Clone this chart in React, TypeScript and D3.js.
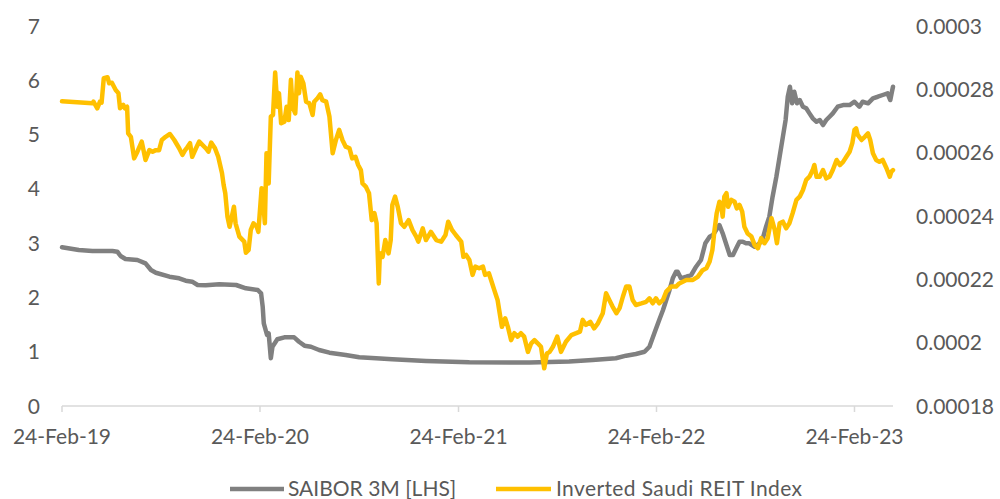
import React from "react";
import * as d3 from "d3";

// SAIBOR 3M (left axis, %)
const saibor: [string, number][] = [
  ["2019-02-24", 2.923], ["2019-03-27", 2.873], ["2019-04-21", 2.855], ["2019-05-28", 2.855],
  ["2019-06-06", 2.842], ["2019-06-12", 2.763], ["2019-06-21", 2.708], ["2019-07-13", 2.689],
  ["2019-07-28", 2.628], ["2019-08-07", 2.505], ["2019-08-16", 2.455], ["2019-09-10", 2.382],
  ["2019-09-28", 2.352], ["2019-10-10", 2.308], ["2019-10-22", 2.29], ["2019-11-01", 2.229],
  ["2019-11-16", 2.223], ["2019-12-11", 2.242], ["2020-01-11", 2.229], ["2020-01-29", 2.168],
  ["2020-02-20", 2.137], ["2020-02-26", 2.076], ["2020-02-29", 1.829], ["2020-03-02", 1.523],
  ["2020-03-08", 1.308], ["2020-03-11", 1.339], ["2020-03-15", 0.879], ["2020-03-18", 1.092],
  ["2020-03-27", 1.229], ["2020-04-09", 1.265], ["2020-04-27", 1.265], ["2020-05-06", 1.184],
  ["2020-05-16", 1.111], ["2020-05-28", 1.092], ["2020-06-12", 1.031], ["2020-07-01", 0.982],
  ["2020-07-31", 0.94], ["2020-08-25", 0.897], ["2020-09-25", 0.879], ["2020-10-25", 0.86],
  ["2020-12-26", 0.829], ["2021-03-16", 0.805], ["2021-07-05", 0.801], ["2021-09-16", 0.82],
  ["2021-10-29", 0.847], ["2021-12-11", 0.879], ["2021-12-30", 0.927], ["2022-01-17", 0.958],
  ["2022-02-02", 1.0], ["2022-02-11", 1.092], ["2022-02-20", 1.339], ["2022-03-01", 1.584],
  ["2022-03-08", 1.768], ["2022-03-14", 1.952], ["2022-03-20", 2.137], ["2022-03-26", 2.352],
  ["2022-04-01", 2.474], ["2022-04-04", 2.474], ["2022-04-10", 2.352], ["2022-04-20", 2.382],
  ["2022-04-29", 2.413], ["2022-05-08", 2.566], ["2022-05-17", 2.689], ["2022-05-25", 2.997],
  ["2022-06-02", 3.118], ["2022-06-08", 3.15], ["2022-06-14", 3.242], ["2022-06-20", 3.334],
  ["2022-06-26", 3.181], ["2022-07-03", 2.966], ["2022-07-09", 2.781], ["2022-07-15", 2.781],
  ["2022-07-21", 2.905], ["2022-07-27", 3.026], ["2022-08-02", 3.026], ["2022-08-08", 2.997],
  ["2022-08-14", 2.997], ["2022-08-24", 2.934], ["2022-09-02", 2.997], ["2022-09-08", 3.089],
  ["2022-09-14", 3.303], ["2022-09-20", 3.487], ["2022-09-26", 3.855], ["2022-10-03", 4.224],
  ["2022-10-09", 4.592], ["2022-10-15", 4.96], ["2022-10-20", 5.268], ["2022-10-24", 5.697],
  ["2022-10-28", 5.881], ["2022-11-01", 5.576], ["2022-11-05", 5.789], ["2022-11-10", 5.576],
  ["2022-11-15", 5.636], ["2022-11-21", 5.513], ["2022-11-27", 5.484], ["2022-12-03", 5.391],
  ["2022-12-09", 5.299], ["2022-12-16", 5.237], ["2022-12-22", 5.268], ["2022-12-28", 5.176],
  ["2023-01-03", 5.268], ["2023-01-09", 5.329], ["2023-01-15", 5.391], ["2023-01-24", 5.513],
  ["2023-02-03", 5.544], ["2023-02-15", 5.544], ["2023-02-24", 5.605], ["2023-03-05", 5.513],
  ["2023-03-11", 5.605], ["2023-03-21", 5.576], ["2023-03-30", 5.668], ["2023-04-08", 5.697],
  ["2023-04-17", 5.729], ["2023-04-26", 5.76], ["2023-05-01", 5.636], ["2023-05-04", 5.789],
  ["2023-05-06", 5.881],
];

// Inverted Saudi REIT Index (right axis)
const invertedReit: [string, number][] = [
  ["2019-02-24", 0.0002762], ["2019-04-21", 0.0002756], ["2019-04-23", 0.0002761], ["2019-04-30", 0.000274],
  ["2019-05-05", 0.0002761], ["2019-05-08", 0.0002758], ["2019-05-12", 0.0002835], ["2019-05-19", 0.0002838],
  ["2019-05-22", 0.0002819], ["2019-05-27", 0.0002821], ["2019-06-03", 0.0002798], ["2019-06-08", 0.0002788],
  ["2019-06-11", 0.000274], ["2019-06-17", 0.0002751], ["2019-06-20", 0.000274], ["2019-06-24", 0.0002745],
  ["2019-06-26", 0.0002661], ["2019-07-01", 0.000265], ["2019-07-07", 0.0002582], ["2019-07-13", 0.0002603],
  ["2019-07-21", 0.0002635], ["2019-07-28", 0.0002577], ["2019-08-04", 0.0002608], ["2019-08-10", 0.0002603],
  ["2019-08-16", 0.0002608], ["2019-08-22", 0.0002608], ["2019-08-27", 0.000264], ["2019-09-03", 0.000265],
  ["2019-09-11", 0.0002659], ["2019-09-19", 0.000264], ["2019-09-28", 0.0002614], ["2019-10-04", 0.0002593],
  ["2019-10-09", 0.0002608], ["2019-10-13", 0.0002617], ["2019-10-18", 0.000263], ["2019-10-22", 0.0002587],
  ["2019-10-29", 0.0002614], ["2019-11-04", 0.0002635], ["2019-11-16", 0.0002614], ["2019-11-21", 0.0002603],
  ["2019-11-26", 0.0002632], ["2019-12-03", 0.0002614], ["2019-12-09", 0.0002587], ["2019-12-16", 0.0002535],
  ["2019-12-19", 0.0002498], ["2019-12-22", 0.0002472], ["2019-12-26", 0.0002398], ["2019-12-30", 0.0002366],
  ["2020-01-03", 0.0002398], ["2020-01-07", 0.0002429], ["2020-01-10", 0.0002377], ["2020-01-17", 0.0002335],
  ["2020-01-26", 0.0002319], ["2020-01-29", 0.0002284], ["2020-02-03", 0.0002293], ["2020-02-07", 0.0002356],
  ["2020-02-12", 0.0002377], ["2020-02-18", 0.0002366], ["2020-02-21", 0.000235], ["2020-02-24", 0.0002419],
  ["2020-02-27", 0.0002488], ["2020-03-01", 0.000244], ["2020-03-04", 0.0002377], ["2020-03-07", 0.0002598],
  ["2020-03-11", 0.0002503], ["2020-03-15", 0.0002714], ["2020-03-19", 0.0002719], ["2020-03-23", 0.0002853],
  ["2020-03-27", 0.0002745], ["2020-03-30", 0.0002788], ["2020-04-03", 0.0002693], ["2020-04-09", 0.0002698],
  ["2020-04-13", 0.0002745], ["2020-04-17", 0.0002703], ["2020-04-21", 0.000283], ["2020-04-24", 0.0002745],
  ["2020-04-29", 0.0002724], ["2020-05-03", 0.0002853], ["2020-05-06", 0.0002788], ["2020-05-09", 0.000284],
  ["2020-05-14", 0.0002819], ["2020-05-19", 0.0002761], ["2020-05-25", 0.0002756], ["2020-05-31", 0.0002719],
  ["2020-06-03", 0.0002761], ["2020-06-09", 0.0002772], ["2020-06-14", 0.0002784], ["2020-06-18", 0.0002766],
  ["2020-06-25", 0.0002761], ["2020-07-01", 0.0002714], ["2020-07-07", 0.0002598], ["2020-07-13", 0.000264],
  ["2020-07-19", 0.0002672], ["2020-07-25", 0.000264], ["2020-07-31", 0.0002619], ["2020-08-07", 0.0002614],
  ["2020-08-12", 0.0002582], ["2020-08-18", 0.0002587], ["2020-08-23", 0.0002561], ["2020-08-28", 0.0002545],
  ["2020-08-31", 0.0002503], ["2020-09-06", 0.0002493], ["2020-09-12", 0.0002472], ["2020-09-17", 0.0002387],
  ["2020-09-22", 0.0002409], ["2020-09-26", 0.0002377], ["2020-09-30", 0.0002187], ["2020-10-02", 0.0002282],
  ["2020-10-07", 0.0002271], ["2020-10-12", 0.0002324], ["2020-10-18", 0.0002282], ["2020-10-22", 0.0002324],
  ["2020-10-25", 0.0002435], ["2020-10-30", 0.0002461], ["2020-11-04", 0.0002429], ["2020-11-10", 0.0002377],
  ["2020-11-16", 0.0002366], ["2020-11-24", 0.0002387], ["2020-12-01", 0.0002356], ["2020-12-08", 0.0002335],
  ["2020-12-12", 0.0002319], ["2020-12-20", 0.0002361], ["2020-12-26", 0.0002324], ["2021-01-04", 0.000235],
  ["2021-01-14", 0.0002324], ["2021-01-23", 0.0002319], ["2021-01-31", 0.000234], ["2021-02-05", 0.0002382],
  ["2021-02-12", 0.0002356], ["2021-02-19", 0.000234], ["2021-03-01", 0.0002319], ["2021-03-05", 0.0002271],
  ["2021-03-10", 0.0002277], ["2021-03-16", 0.0002261], ["2021-03-22", 0.0002214], ["2021-03-27", 0.000224],
  ["2021-04-03", 0.0002235], ["2021-04-10", 0.000224], ["2021-04-14", 0.0002214], ["2021-04-21", 0.0002219],
  ["2021-04-25", 0.0002198], ["2021-05-01", 0.0002166], ["2021-05-07", 0.0002135], ["2021-05-10", 0.0002103],
  ["2021-05-15", 0.000205], ["2021-05-21", 0.0002077], ["2021-05-26", 0.000205], ["2021-06-01", 0.0002008],
  ["2021-06-07", 0.000203], ["2021-06-13", 0.0002019], ["2021-06-19", 0.000203], ["2021-06-25", 0.0002019],
  ["2021-07-02", 0.0001971], ["2021-07-08", 0.0001998], ["2021-07-14", 0.0002008], ["2021-07-20", 0.0001998],
  ["2021-07-26", 0.0001987], ["2021-08-01", 0.0001919], ["2021-08-06", 0.0001966], ["2021-08-11", 0.0001971],
  ["2021-08-17", 0.0001987], ["2021-08-25", 0.0002019], ["2021-09-01", 0.0001971], ["2021-09-10", 0.0002003],
  ["2021-09-20", 0.0002024], ["2021-09-29", 0.000203], ["2021-10-06", 0.0002035], ["2021-10-11", 0.0002072],
  ["2021-10-17", 0.0002056], ["2021-10-25", 0.0002066], ["2021-11-01", 0.0002045], ["2021-11-08", 0.0002061],
  ["2021-11-17", 0.0002093], ["2021-11-23", 0.0002156], ["2021-11-29", 0.0002135], ["2021-12-05", 0.0002114],
  ["2021-12-12", 0.0002093], ["2021-12-18", 0.0002109], ["2021-12-24", 0.0002145], ["2021-12-30", 0.0002177],
  ["2022-01-05", 0.0002177], ["2022-01-11", 0.0002135], ["2022-01-17", 0.0002119], ["2022-01-27", 0.0002124],
  ["2022-02-05", 0.0002129], ["2022-02-11", 0.000214], ["2022-02-17", 0.0002124], ["2022-02-23", 0.000214],
  ["2022-03-01", 0.0002124], ["2022-03-08", 0.0002135], ["2022-03-14", 0.0002161], ["2022-03-23", 0.0002177],
  ["2022-04-01", 0.0002177], ["2022-04-07", 0.0002187], ["2022-04-20", 0.0002198], ["2022-05-02", 0.0002198],
  ["2022-05-11", 0.0002208], ["2022-05-20", 0.0002229], ["2022-05-27", 0.0002235], ["2022-06-02", 0.0002256],
  ["2022-06-07", 0.0002293], ["2022-06-11", 0.0002356], ["2022-06-15", 0.0002409], ["2022-06-20", 0.0002445],
  ["2022-06-23", 0.000244], ["2022-06-26", 0.0002398], ["2022-06-29", 0.0002461], ["2022-07-03", 0.0002472],
  ["2022-07-06", 0.0002429], ["2022-07-12", 0.0002451], ["2022-07-18", 0.0002445], ["2022-07-22", 0.0002424],
  ["2022-07-27", 0.0002435], ["2022-08-01", 0.0002414], ["2022-08-05", 0.0002366], ["2022-08-11", 0.0002345],
  ["2022-08-18", 0.0002335], ["2022-08-24", 0.0002308], ["2022-08-30", 0.0002298], ["2022-09-05", 0.000233],
  ["2022-09-11", 0.0002314], ["2022-09-17", 0.000233], ["2022-09-24", 0.0002393], ["2022-09-30", 0.0002356],
  ["2022-10-04", 0.0002314], ["2022-10-09", 0.0002377], ["2022-10-15", 0.0002382], ["2022-10-21", 0.0002361],
  ["2022-10-27", 0.0002377], ["2022-11-02", 0.0002409], ["2022-11-09", 0.0002451], ["2022-11-15", 0.0002461],
  ["2022-11-21", 0.0002482], ["2022-11-27", 0.0002514], ["2022-12-03", 0.0002524], ["2022-12-09", 0.0002545],
  ["2022-12-12", 0.0002561], ["2022-12-16", 0.0002524], ["2022-12-22", 0.0002524], ["2022-12-28", 0.0002545],
  ["2023-01-03", 0.0002519], ["2023-01-09", 0.0002524], ["2023-01-15", 0.0002545], ["2023-01-22", 0.0002577],
  ["2023-01-28", 0.0002561], ["2023-02-03", 0.0002571], ["2023-02-09", 0.0002587], ["2023-02-15", 0.0002603],
  ["2023-02-20", 0.000263], ["2023-02-24", 0.0002672], ["2023-02-27", 0.0002677], ["2023-03-02", 0.0002656],
  ["2023-03-09", 0.000264], ["2023-03-15", 0.000265], ["2023-03-21", 0.0002661], ["2023-03-25", 0.000264],
  ["2023-03-30", 0.0002598], ["2023-04-05", 0.0002577], ["2023-04-11", 0.0002571], ["2023-04-17", 0.0002577],
  ["2023-04-24", 0.0002551], ["2023-04-30", 0.0002524], ["2023-05-03", 0.000254], ["2023-05-06", 0.0002545],
];

const xTickDates = ["2019-02-24", "2020-02-24", "2021-02-24", "2022-02-24", "2023-02-24"];
const leftTicks = [0, 1, 2, 3, 4, 5, 6, 7];
const rightTicks = [0.00018, 0.0002, 0.00022, 0.00024, 0.00026, 0.00028, 0.0003];
const xDomain = ["2019-02-24", "2023-05-06"];
const seriesNames = ["SAIBOR 3M [LHS]", "Inverted Saudi REIT Index"];

const GRAY = "#808080";
const GOLD = "#FFC000";
const TEXT = "#595959";
const AXIS = "#D9D9D9";
const FONT = "Lato, 'Open Sans', sans-serif";

const parse = d3.utcParse("%Y-%m-%d");

export default function App() {
  const width = 1000;
  const height = 499;
  const left = 62;
  const right = 893;
  const top = 26;
  const bottom = 406;

  const x = d3
    .scaleUtc()
    .domain(xDomain.map((d) => parse(d) as Date))
    .range([left, right]);
  const yL = d3.scaleLinear().domain([0, 7]).range([bottom, top]);
  const yR = d3.scaleLinear().domain([0.00018, 0.0003]).range([bottom, top]);

  const lineL = d3
    .line<[string, number]>()
    .x((d) => x(parse(d[0]) as Date))
    .y((d) => yL(d[1]));
  const lineR = d3
    .line<[string, number]>()
    .x((d) => x(parse(d[0]) as Date))
    .y((d) => yR(d[1]));

  const fmtR = d3.format(".5~f");
  const fmtX = d3.utcFormat("%d-%b-%y");

  return (
    <svg
      width={width}
      height={height}
      style={{ position: "fixed", left: 0, top: 0, background: "#fff" }}
      fontFamily={FONT}
    >
      <rect width={width} height={height} fill="#fff" />

      {/* category axis */}
      <line x1={left} x2={right} y1={bottom} y2={bottom} stroke={AXIS} strokeWidth={1.5} />
      {xTickDates.map((d) => {
        const px = x(parse(d) as Date);
        return (
          <g key={d}>
            <line x1={px} x2={px} y1={bottom} y2={bottom + 6} stroke={AXIS} strokeWidth={1.5} />
            <text x={px} y={444} textAnchor="middle" fontSize={21} fill={TEXT}>
              {fmtX(parse(d) as Date)}
            </text>
          </g>
        );
      })}

      {/* left value axis */}
      {leftTicks.map((t) => (
        <text key={t} x={40} y={yL(t)} dy="0.36em" textAnchor="end" fontSize={21} fill={TEXT}>
          {t}
        </text>
      ))}

      {/* right value axis */}
      {rightTicks.map((t) => (
        <text key={t} x={916} y={yR(t)} dy="0.36em" textAnchor="start" fontSize={21} fill={TEXT}>
          {fmtR(t)}
        </text>
      ))}

      {/* series */}
      <path
        d={lineL(saibor) ?? ""}
        fill="none"
        stroke={GRAY}
        strokeWidth={4.5}
        strokeLinejoin="round"
        strokeLinecap="round"
      />
      <path
        d={lineR(invertedReit) ?? ""}
        fill="none"
        stroke={GOLD}
        strokeWidth={4.5}
        strokeLinejoin="round"
        strokeLinecap="round"
      />

      {/* legend */}
      <g fontSize={21} fill={TEXT}>
        <line x1={230} x2={284} y1={489} y2={489} stroke={GRAY} strokeWidth={4.5} />
        <text x={288} y={496}>{seriesNames[0]}</text>
        <line x1={496} x2={551} y1={489} y2={489} stroke={GOLD} strokeWidth={4.5} />
        <text x={556} y={496} textLength={246} lengthAdjust="spacing">{seriesNames[1]}</text>
      </g>
    </svg>
  );
}
